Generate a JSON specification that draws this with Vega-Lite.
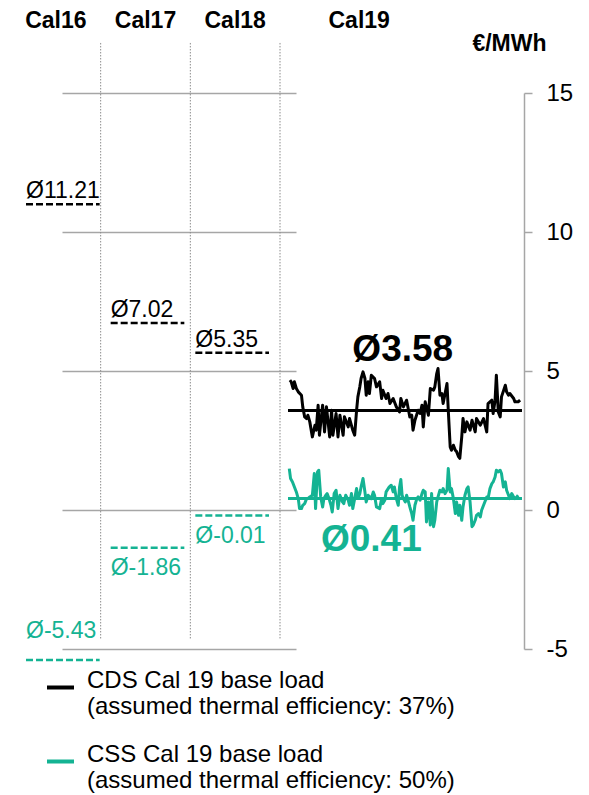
{
  "$schema": "https://vega.github.io/schema/vega-lite/v6.json",
  "width": 464,
  "height": 556,
  "autosize": {"type": "none"},
  "padding": {"left": 60, "top": 93, "right": 65, "bottom": 146},
  "background": "white",
  "config": {"view": {"stroke": null}, "font": "Liberation Sans"},
  "datasets": {
    "summary": [
      {"period": "Cal16", "series": "CDS", "avg": 11.21, "level": 11.0},
      {"period": "Cal17", "series": "CDS", "avg": 7.02, "level": 6.73},
      {"period": "Cal18", "series": "CDS", "avg": 5.35, "level": 5.66},
      {"period": "Cal16", "series": "CSS", "avg": -5.43, "level": -5.4},
      {"period": "Cal17", "series": "CSS", "avg": -1.86, "level": -1.36},
      {"period": "Cal18", "series": "CSS", "avg": -0.01, "level": -0.2}
    ],
    "avg19": [
      {"series": "CDS", "avg": 3.58},
      {"series": "CSS", "avg": 0.41}
    ],
    "cal19": [
      {"day": 3, "series": "CDS", "value": 4.67}, {"day": 5, "series": "CDS", "value": 4.61}, {"day": 8, "series": "CDS", "value": 4.37}, {"day": 10, "series": "CDS", "value": 4.61}, {"day": 13, "series": "CDS", "value": 4.37}, {"day": 16, "series": "CDS", "value": 4.25}, {"day": 21, "series": "CDS", "value": 4.13}, {"day": 23, "series": "CDS", "value": 3.71}, {"day": 26, "series": "CDS", "value": 3.35}, {"day": 29, "series": "CDS", "value": 3.29}, {"day": 31, "series": "CDS", "value": 3.41}, {"day": 34, "series": "CDS", "value": 3.17}, {"day": 38, "series": "CDS", "value": 2.63}, {"day": 42, "series": "CDS", "value": 3.05}, {"day": 44, "series": "CDS", "value": 2.87}, {"day": 47, "series": "CDS", "value": 3.77}, {"day": 49, "series": "CDS", "value": 2.69}, {"day": 54, "series": "CDS", "value": 3.77}, {"day": 57, "series": "CDS", "value": 2.81}, {"day": 60, "series": "CDS", "value": 3.71}, {"day": 65, "series": "CDS", "value": 2.63}, {"day": 68, "series": "CDS", "value": 3.59}, {"day": 70, "series": "CDS", "value": 2.69}, {"day": 75, "series": "CDS", "value": 3.47}, {"day": 78, "series": "CDS", "value": 2.63}, {"day": 81, "series": "CDS", "value": 3.41}, {"day": 86, "series": "CDS", "value": 2.69}, {"day": 88, "series": "CDS", "value": 3.35}, {"day": 94, "series": "CDS", "value": 2.99}, {"day": 96, "series": "CDS", "value": 3.29}, {"day": 101, "series": "CDS", "value": 2.87}, {"day": 104, "series": "CDS", "value": 2.69}, {"day": 107, "series": "CDS", "value": 3.59}, {"day": 109, "series": "CDS", "value": 4.07}, {"day": 112, "series": "CDS", "value": 4.43}, {"day": 114, "series": "CDS", "value": 4.73}, {"day": 117, "series": "CDS", "value": 4.97}, {"day": 120, "series": "CDS", "value": 4.73}, {"day": 122, "series": "CDS", "value": 4.13}, {"day": 125, "series": "CDS", "value": 4.61}, {"day": 127, "series": "CDS", "value": 4.19}, {"day": 130, "series": "CDS", "value": 4.85}, {"day": 135, "series": "CDS", "value": 4.73}, {"day": 138, "series": "CDS", "value": 4.43}, {"day": 143, "series": "CDS", "value": 4.61}, {"day": 146, "series": "CDS", "value": 4.01}, {"day": 148, "series": "CDS", "value": 4.31}, {"day": 153, "series": "CDS", "value": 4.01}, {"day": 156, "series": "CDS", "value": 4.19}, {"day": 159, "series": "CDS", "value": 3.83}, {"day": 164, "series": "CDS", "value": 4.01}, {"day": 169, "series": "CDS", "value": 3.71}, {"day": 174, "series": "CDS", "value": 3.53}, {"day": 176, "series": "CDS", "value": 4.01}, {"day": 180, "series": "CDS", "value": 3.71}, {"day": 185, "series": "CDS", "value": 3.95}, {"day": 188, "series": "CDS", "value": 3.59}, {"day": 190, "series": "CDS", "value": 3.35}, {"day": 193, "series": "CDS", "value": 3.41}, {"day": 195, "series": "CDS", "value": 2.87}, {"day": 198, "series": "CDS", "value": 3.23}, {"day": 203, "series": "CDS", "value": 3.59}, {"day": 206, "series": "CDS", "value": 3.47}, {"day": 209, "series": "CDS", "value": 3.77}, {"day": 211, "series": "CDS", "value": 2.99}, {"day": 214, "series": "CDS", "value": 3.89}, {"day": 219, "series": "CDS", "value": 3.41}, {"day": 222, "series": "CDS", "value": 4.37}, {"day": 227, "series": "CDS", "value": 4.31}, {"day": 229, "series": "CDS", "value": 4.43}, {"day": 232, "series": "CDS", "value": 4.91}, {"day": 234, "series": "CDS", "value": 5.09}, {"day": 237, "series": "CDS", "value": 4.13}, {"day": 240, "series": "CDS", "value": 4.19}, {"day": 242, "series": "CDS", "value": 3.83}, {"day": 248, "series": "CDS", "value": 4.55}, {"day": 250, "series": "CDS", "value": 3.59}, {"day": 253, "series": "CDS", "value": 2.27}, {"day": 255, "series": "CDS", "value": 2.15}, {"day": 258, "series": "CDS", "value": 2.33}, {"day": 261, "series": "CDS", "value": 2.15}, {"day": 263, "series": "CDS", "value": 2.1}, {"day": 266, "series": "CDS", "value": 1.92}, {"day": 268, "series": "CDS", "value": 1.86}, {"day": 271, "series": "CDS", "value": 2.63}, {"day": 273, "series": "CDS", "value": 3.29}, {"day": 276, "series": "CDS", "value": 2.81}, {"day": 279, "series": "CDS", "value": 3.17}, {"day": 284, "series": "CDS", "value": 2.87}, {"day": 287, "series": "CDS", "value": 3.23}, {"day": 292, "series": "CDS", "value": 2.81}, {"day": 294, "series": "CDS", "value": 3.29}, {"day": 300, "series": "CDS", "value": 3.05}, {"day": 305, "series": "CDS", "value": 3.29}, {"day": 310, "series": "CDS", "value": 2.81}, {"day": 312, "series": "CDS", "value": 3.83}, {"day": 318, "series": "CDS", "value": 3.95}, {"day": 320, "series": "CDS", "value": 3.47}, {"day": 323, "series": "CDS", "value": 3.95}, {"day": 325, "series": "CDS", "value": 4.85}, {"day": 328, "series": "CDS", "value": 3.53}, {"day": 331, "series": "CDS", "value": 3.35}, {"day": 333, "series": "CDS", "value": 4.07}, {"day": 339, "series": "CDS", "value": 4.49}, {"day": 341, "series": "CDS", "value": 4.25}, {"day": 344, "series": "CDS", "value": 4.13}, {"day": 346, "series": "CDS", "value": 4.19}, {"day": 352, "series": "CDS", "value": 4.01}, {"day": 354, "series": "CDS", "value": 3.89}, {"day": 359, "series": "CDS", "value": 3.89}, {"day": 362, "series": "CDS", "value": 3.95},
      {"day": 2, "series": "CSS", "value": 1.49}, {"day": 4, "series": "CSS", "value": 1.13}, {"day": 7, "series": "CSS", "value": 1.01}, {"day": 10, "series": "CSS", "value": 0.83}, {"day": 13, "series": "CSS", "value": 0.65}, {"day": 16, "series": "CSS", "value": 0.41}, {"day": 18, "series": "CSS", "value": 0.05}, {"day": 21, "series": "CSS", "value": 0.05}, {"day": 23, "series": "CSS", "value": 0.17}, {"day": 26, "series": "CSS", "value": 0.23}, {"day": 29, "series": "CSS", "value": 0.41}, {"day": 31, "series": "CSS", "value": 0.41}, {"day": 34, "series": "CSS", "value": 0.47}, {"day": 38, "series": "CSS", "value": 0.53}, {"day": 41, "series": "CSS", "value": 1.31}, {"day": 43, "series": "CSS", "value": 0.05}, {"day": 46, "series": "CSS", "value": 1.37}, {"day": 48, "series": "CSS", "value": 1.43}, {"day": 51, "series": "CSS", "value": 0.47}, {"day": 54, "series": "CSS", "value": 0.11}, {"day": 56, "series": "CSS", "value": 0.41}, {"day": 59, "series": "CSS", "value": 0.53}, {"day": 61, "series": "CSS", "value": 0.59}, {"day": 64, "series": "CSS", "value": 0.41}, {"day": 67, "series": "CSS", "value": 0.17}, {"day": 69, "series": "CSS", "value": -0.07}, {"day": 72, "series": "CSS", "value": 0.59}, {"day": 75, "series": "CSS", "value": 0.71}, {"day": 78, "series": "CSS", "value": 0.05}, {"day": 81, "series": "CSS", "value": 0.53}, {"day": 85, "series": "CSS", "value": 0.29}, {"day": 87, "series": "CSS", "value": 0.23}, {"day": 90, "series": "CSS", "value": 0.53}, {"day": 94, "series": "CSS", "value": 0.35}, {"day": 96, "series": "CSS", "value": 0.17}, {"day": 99, "series": "CSS", "value": 0.59}, {"day": 101, "series": "CSS", "value": 0.05}, {"day": 104, "series": "CSS", "value": 0.41}, {"day": 107, "series": "CSS", "value": 0.77}, {"day": 109, "series": "CSS", "value": 0.41}, {"day": 112, "series": "CSS", "value": 0.59}, {"day": 114, "series": "CSS", "value": 0.83}, {"day": 117, "series": "CSS", "value": 1.13}, {"day": 120, "series": "CSS", "value": 0.65}, {"day": 122, "series": "CSS", "value": 0.29}, {"day": 125, "series": "CSS", "value": 0.53}, {"day": 130, "series": "CSS", "value": 0.41}, {"day": 133, "series": "CSS", "value": 0.65}, {"day": 135, "series": "CSS", "value": 0.53}, {"day": 138, "series": "CSS", "value": 0.11}, {"day": 143, "series": "CSS", "value": 0.05}, {"day": 146, "series": "CSS", "value": 0.41}, {"day": 148, "series": "CSS", "value": 0.23}, {"day": 151, "series": "CSS", "value": 0.35}, {"day": 153, "series": "CSS", "value": 0.65}, {"day": 158, "series": "CSS", "value": 0.83}, {"day": 161, "series": "CSS", "value": 0.89}, {"day": 164, "series": "CSS", "value": 0.65}, {"day": 166, "series": "CSS", "value": 0.83}, {"day": 169, "series": "CSS", "value": 0.41}, {"day": 172, "series": "CSS", "value": 0.17}, {"day": 174, "series": "CSS", "value": 0.83}, {"day": 176, "series": "CSS", "value": 1.1}, {"day": 178, "series": "CSS", "value": 0.53}, {"day": 180, "series": "CSS", "value": 0.41}, {"day": 183, "series": "CSS", "value": 0.29}, {"day": 185, "series": "CSS", "value": 0.53}, {"day": 188, "series": "CSS", "value": 0.29}, {"day": 190, "series": "CSS", "value": 0.11}, {"day": 193, "series": "CSS", "value": -0.13}, {"day": 195, "series": "CSS", "value": -0.37}, {"day": 198, "series": "CSS", "value": 0.17}, {"day": 201, "series": "CSS", "value": 0.41}, {"day": 203, "series": "CSS", "value": 0.47}, {"day": 206, "series": "CSS", "value": 0.35}, {"day": 209, "series": "CSS", "value": 0.59}, {"day": 211, "series": "CSS", "value": 0.71}, {"day": 214, "series": "CSS", "value": 0.65}, {"day": 216, "series": "CSS", "value": -0.43}, {"day": 219, "series": "CSS", "value": 0.29}, {"day": 222, "series": "CSS", "value": -0.54}, {"day": 224, "series": "CSS", "value": 0.59}, {"day": 227, "series": "CSS", "value": -0.6}, {"day": 229, "series": "CSS", "value": -0.37}, {"day": 232, "series": "CSS", "value": 0.29}, {"day": 234, "series": "CSS", "value": 0.47}, {"day": 237, "series": "CSS", "value": 0.71}, {"day": 240, "series": "CSS", "value": 0.65}, {"day": 242, "series": "CSS", "value": 0.77}, {"day": 245, "series": "CSS", "value": 0.59}, {"day": 248, "series": "CSS", "value": 0.71}, {"day": 250, "series": "CSS", "value": 1.49}, {"day": 253, "series": "CSS", "value": 0.65}, {"day": 255, "series": "CSS", "value": 0.77}, {"day": 258, "series": "CSS", "value": 0.41}, {"day": 261, "series": "CSS", "value": -0.13}, {"day": 263, "series": "CSS", "value": 0.29}, {"day": 266, "series": "CSS", "value": -0.19}, {"day": 268, "series": "CSS", "value": 0.17}, {"day": 271, "series": "CSS", "value": -0.37}, {"day": 273, "series": "CSS", "value": 0.11}, {"day": 276, "series": "CSS", "value": 0.53}, {"day": 279, "series": "CSS", "value": 0.77}, {"day": 281, "series": "CSS", "value": 0.83}, {"day": 284, "series": "CSS", "value": 0.29}, {"day": 287, "series": "CSS", "value": -0.6}, {"day": 289, "series": "CSS", "value": -0.54}, {"day": 292, "series": "CSS", "value": -0.37}, {"day": 294, "series": "CSS", "value": -0.19}, {"day": 297, "series": "CSS", "value": -0.13}, {"day": 300, "series": "CSS", "value": -0.25}, {"day": 302, "series": "CSS", "value": -0.01}, {"day": 305, "series": "CSS", "value": 0.17}, {"day": 307, "series": "CSS", "value": 0.29}, {"day": 310, "series": "CSS", "value": 0.47}, {"day": 312, "series": "CSS", "value": 0.41}, {"day": 315, "series": "CSS", "value": 0.77}, {"day": 318, "series": "CSS", "value": 0.95}, {"day": 320, "series": "CSS", "value": 1.01}, {"day": 323, "series": "CSS", "value": 1.19}, {"day": 325, "series": "CSS", "value": 1.43}, {"day": 328, "series": "CSS", "value": 1.37}, {"day": 331, "series": "CSS", "value": 1.43}, {"day": 333, "series": "CSS", "value": 1.31}, {"day": 336, "series": "CSS", "value": 0.83}, {"day": 339, "series": "CSS", "value": 1.01}, {"day": 341, "series": "CSS", "value": 0.71}, {"day": 344, "series": "CSS", "value": 0.53}, {"day": 346, "series": "CSS", "value": 0.41}, {"day": 349, "series": "CSS", "value": 0.59}, {"day": 352, "series": "CSS", "value": 0.47}, {"day": 354, "series": "CSS", "value": 0.41}, {"day": 357, "series": "CSS", "value": 0.47}, {"day": 359, "series": "CSS", "value": 0.53}
    ]
  },
  "resolve": {"scale": {"x": "independent"}},
  "layer": [
    {
      "data": {"name": "cal19"},
      "mark": {"type": "line", "strokeWidth": 3, "strokeJoin": "round"},
      "encoding": {
        "x": {"field": "day", "type": "quantitative", "scale": {"domain": [0, 365], "range": [228, 462], "nice": false, "zero": false}, "axis": null},
        "y": {
          "field": "value", "type": "quantitative", "title": "€/MWh",
          "scale": {"domain": [-5, 15], "nice": false, "zero": false},
          "axis": {
            "orient": "right", "values": [-5, 0, 5, 10, 15], "grid": true,
            "gridColor": "#a6a6a6", "gridWidth": 1.5,
            "domainColor": "#a6a6a6", "domainWidth": 1.5,
            "tickColor": "#a6a6a6", "tickWidth": 1.5, "tickSize": 8,
            "labelExpr": "'' + datum.value",
            "labelFont": "Liberation Sans", "labelFontSize": 24, "labelColor": "black", "labelPadding": 14, "labelBaseline": "middle",
            "titleFont": "Liberation Sans", "titleFontSize": 23, "titleFontWeight": "bold", "titleColor": "black",
            "titleAngle": 0, "titleX": 22, "titleY": -43, "titleAlign": "right", "titleBaseline": "alphabetic"
          }
        },
        "color": {
          "field": "series", "type": "nominal",
          "scale": {"domain": ["CDS", "CSS"], "range": ["#000000", "#14b393"]},
          "legend": {
            "orient": "none", "legendX": -15, "legendY": 579, "title": null, "padding": 0,
            "symbolType": "stroke", "symbolSize": 729, "symbolStrokeWidth": 4,
            "labelFont": "Liberation Sans", "labelFontSize": 24, "labelColor": "black", "labelOffset": 11, "labelLimit": 600,
            "labelBaseline": "alphabetic",
            "rowPadding": 23,
            "labelExpr": "datum.label === 'CDS' ? ['CDS Cal 19 base load', '(assumed thermal efficiency: 37%)'] : ['CSS Cal 19 base load', '(assumed thermal efficiency: 50%)']"
          }
        }
      }
    },
    {
      "data": {"name": "summary"},
      "transform": [{"filter": "datum.series === 'CDS'"}],
      "mark": {"type": "rule", "color": "#8c8c8c", "strokeWidth": 1, "strokeDash": [1.5, 1.5]},
      "encoding": {
        "x": {"field": "period", "type": "nominal", "bandPosition": 1, "scale": {"type": "band", "domain": ["Cal16", "Cal17", "Cal18"], "range": [-49, 220], "paddingInner": 0, "paddingOuter": 0}, "axis": null},
        "y": {"datum": 16.8, "type": "quantitative"},
        "y2": {"datum": -4.64}
      }
    },
    {
      "data": {"name": "summary"},
      "transform": [{"filter": "datum.series === 'CDS'"}],
      "mark": {"type": "text", "font": "Liberation Sans", "fontSize": 23, "fontWeight": "bold", "align": "center", "baseline": "alphabetic", "color": "black"},
      "encoding": {
        "x": {"field": "period", "type": "nominal", "bandPosition": 0.5, "scale": {"type": "band", "domain": ["Cal16", "Cal17", "Cal18"], "range": [-49, 220], "paddingInner": 0, "paddingOuter": 0}, "axis": null},
        "y": {"datum": 17.35, "type": "quantitative"},
        "text": {"field": "period"}
      }
    },
    {
      "data": {"values": [{"period": "Cal19"}]},
      "mark": {"type": "text", "font": "Liberation Sans", "fontSize": 23, "fontWeight": "bold", "align": "center", "baseline": "alphabetic", "color": "black"},
      "encoding": {
        "x": {"datum": 111, "type": "quantitative", "scale": {"domain": [0, 365], "range": [228, 462], "nice": false, "zero": false}, "axis": null},
        "y": {"datum": 17.35, "type": "quantitative"},
        "text": {"field": "period"}
      }
    },
    {
      "data": {"name": "summary"},
      "mark": {"type": "rule", "strokeWidth": 2.5, "strokeDash": [7, 3]},
      "encoding": {
        "x": {"field": "period", "type": "nominal", "bandPosition": 0, "scale": {"type": "band", "domain": ["Cal16", "Cal17", "Cal18"], "range": [-34, 220], "paddingInner": 0, "paddingOuter": 0}, "axis": null},
        "x2": {"field": "period", "bandPosition": 0.87},
        "y": {"field": "level", "type": "quantitative", "title": "€/MWh"},
        "stroke": {"field": "series", "type": "nominal", "scale": {"domain": ["CDS", "CSS"], "range": ["#000000", "#14b393"]}, "legend": null}
      }
    },
    {
      "data": {"name": "summary"},
      "transform": [{"filter": "datum.series === 'CDS'"}, {"calculate": "'Ø' + datum.avg", "as": "label"}],
      "mark": {"type": "text", "font": "Liberation Sans", "fontSize": 23, "align": "left", "baseline": "alphabetic", "dy": -6, "color": "black"},
      "encoding": {
        "x": {"field": "period", "type": "nominal", "bandPosition": 0, "scale": {"type": "band", "domain": ["Cal16", "Cal17", "Cal18"], "range": [-34, 220], "paddingInner": 0, "paddingOuter": 0}, "axis": null},
        "y": {"field": "level", "type": "quantitative", "title": "€/MWh"},
        "text": {"field": "label"}
      }
    },
    {
      "data": {"name": "summary"},
      "transform": [{"filter": "datum.series === 'CSS' && datum.period !== 'Cal16'"}, {"calculate": "'Ø' + datum.avg", "as": "label"}],
      "mark": {"type": "text", "font": "Liberation Sans", "fontSize": 23, "align": "left", "baseline": "alphabetic", "dy": 27, "color": "#14b393"},
      "encoding": {
        "x": {"field": "period", "type": "nominal", "bandPosition": 0, "scale": {"type": "band", "domain": ["Cal16", "Cal17", "Cal18"], "range": [-34, 220], "paddingInner": 0, "paddingOuter": 0}, "axis": null},
        "y": {"field": "level", "type": "quantitative", "title": "€/MWh"},
        "text": {"field": "label"}
      }
    },
    {
      "data": {"name": "summary"},
      "transform": [{"filter": "datum.series === 'CSS' && datum.period === 'Cal16'"}, {"calculate": "'Ø' + datum.avg", "as": "label"}],
      "mark": {"type": "text", "font": "Liberation Sans", "fontSize": 23, "align": "left", "baseline": "alphabetic", "dy": -22, "color": "#14b393"},
      "encoding": {
        "x": {"field": "period", "type": "nominal", "bandPosition": 0, "scale": {"type": "band", "domain": ["Cal16", "Cal17", "Cal18"], "range": [-34, 220], "paddingInner": 0, "paddingOuter": 0}, "axis": null},
        "y": {"field": "level", "type": "quantitative", "title": "€/MWh"},
        "text": {"field": "label"}
      }
    },
    {
      "data": {"name": "avg19"},
      "mark": {"type": "rule", "strokeWidth": 3},
      "encoding": {
        "x": {"datum": 0, "type": "quantitative", "scale": {"domain": [0, 365], "range": [228, 462], "nice": false, "zero": false}, "axis": null},
        "x2": {"datum": 365},
        "y": {"field": "avg", "type": "quantitative", "title": "€/MWh"},
        "stroke": {"field": "series", "type": "nominal", "scale": {"domain": ["CDS", "CSS"], "range": ["#000000", "#14b393"]}, "legend": null}
      }
    },
    {
      "data": {"name": "avg19"},
      "transform": [{"filter": "datum.series === 'CDS'"}, {"calculate": "'Ø' + datum.avg", "as": "label"}],
      "mark": {"type": "text", "font": "Liberation Sans", "fontSize": 37, "fontWeight": "bold", "align": "center", "baseline": "alphabetic", "dy": -49, "color": "black"},
      "encoding": {
        "x": {"datum": 179, "type": "quantitative", "scale": {"domain": [0, 365], "range": [228, 462], "nice": false, "zero": false}, "axis": null},
        "y": {"field": "avg", "type": "quantitative", "title": "€/MWh"},
        "text": {"field": "label"}
      }
    },
    {
      "data": {"name": "avg19"},
      "transform": [{"filter": "datum.series === 'CSS'"}, {"calculate": "'Ø' + datum.avg", "as": "label"}],
      "mark": {"type": "text", "font": "Liberation Sans", "fontSize": 37, "fontWeight": "bold", "align": "center", "baseline": "alphabetic", "dy": 52, "color": "#14b393"},
      "encoding": {
        "x": {"datum": 130, "type": "quantitative", "scale": {"domain": [0, 365], "range": [228, 462], "nice": false, "zero": false}, "axis": null},
        "y": {"field": "avg", "type": "quantitative", "title": "€/MWh"},
        "text": {"field": "label"}
      }
    }
  ]
}
